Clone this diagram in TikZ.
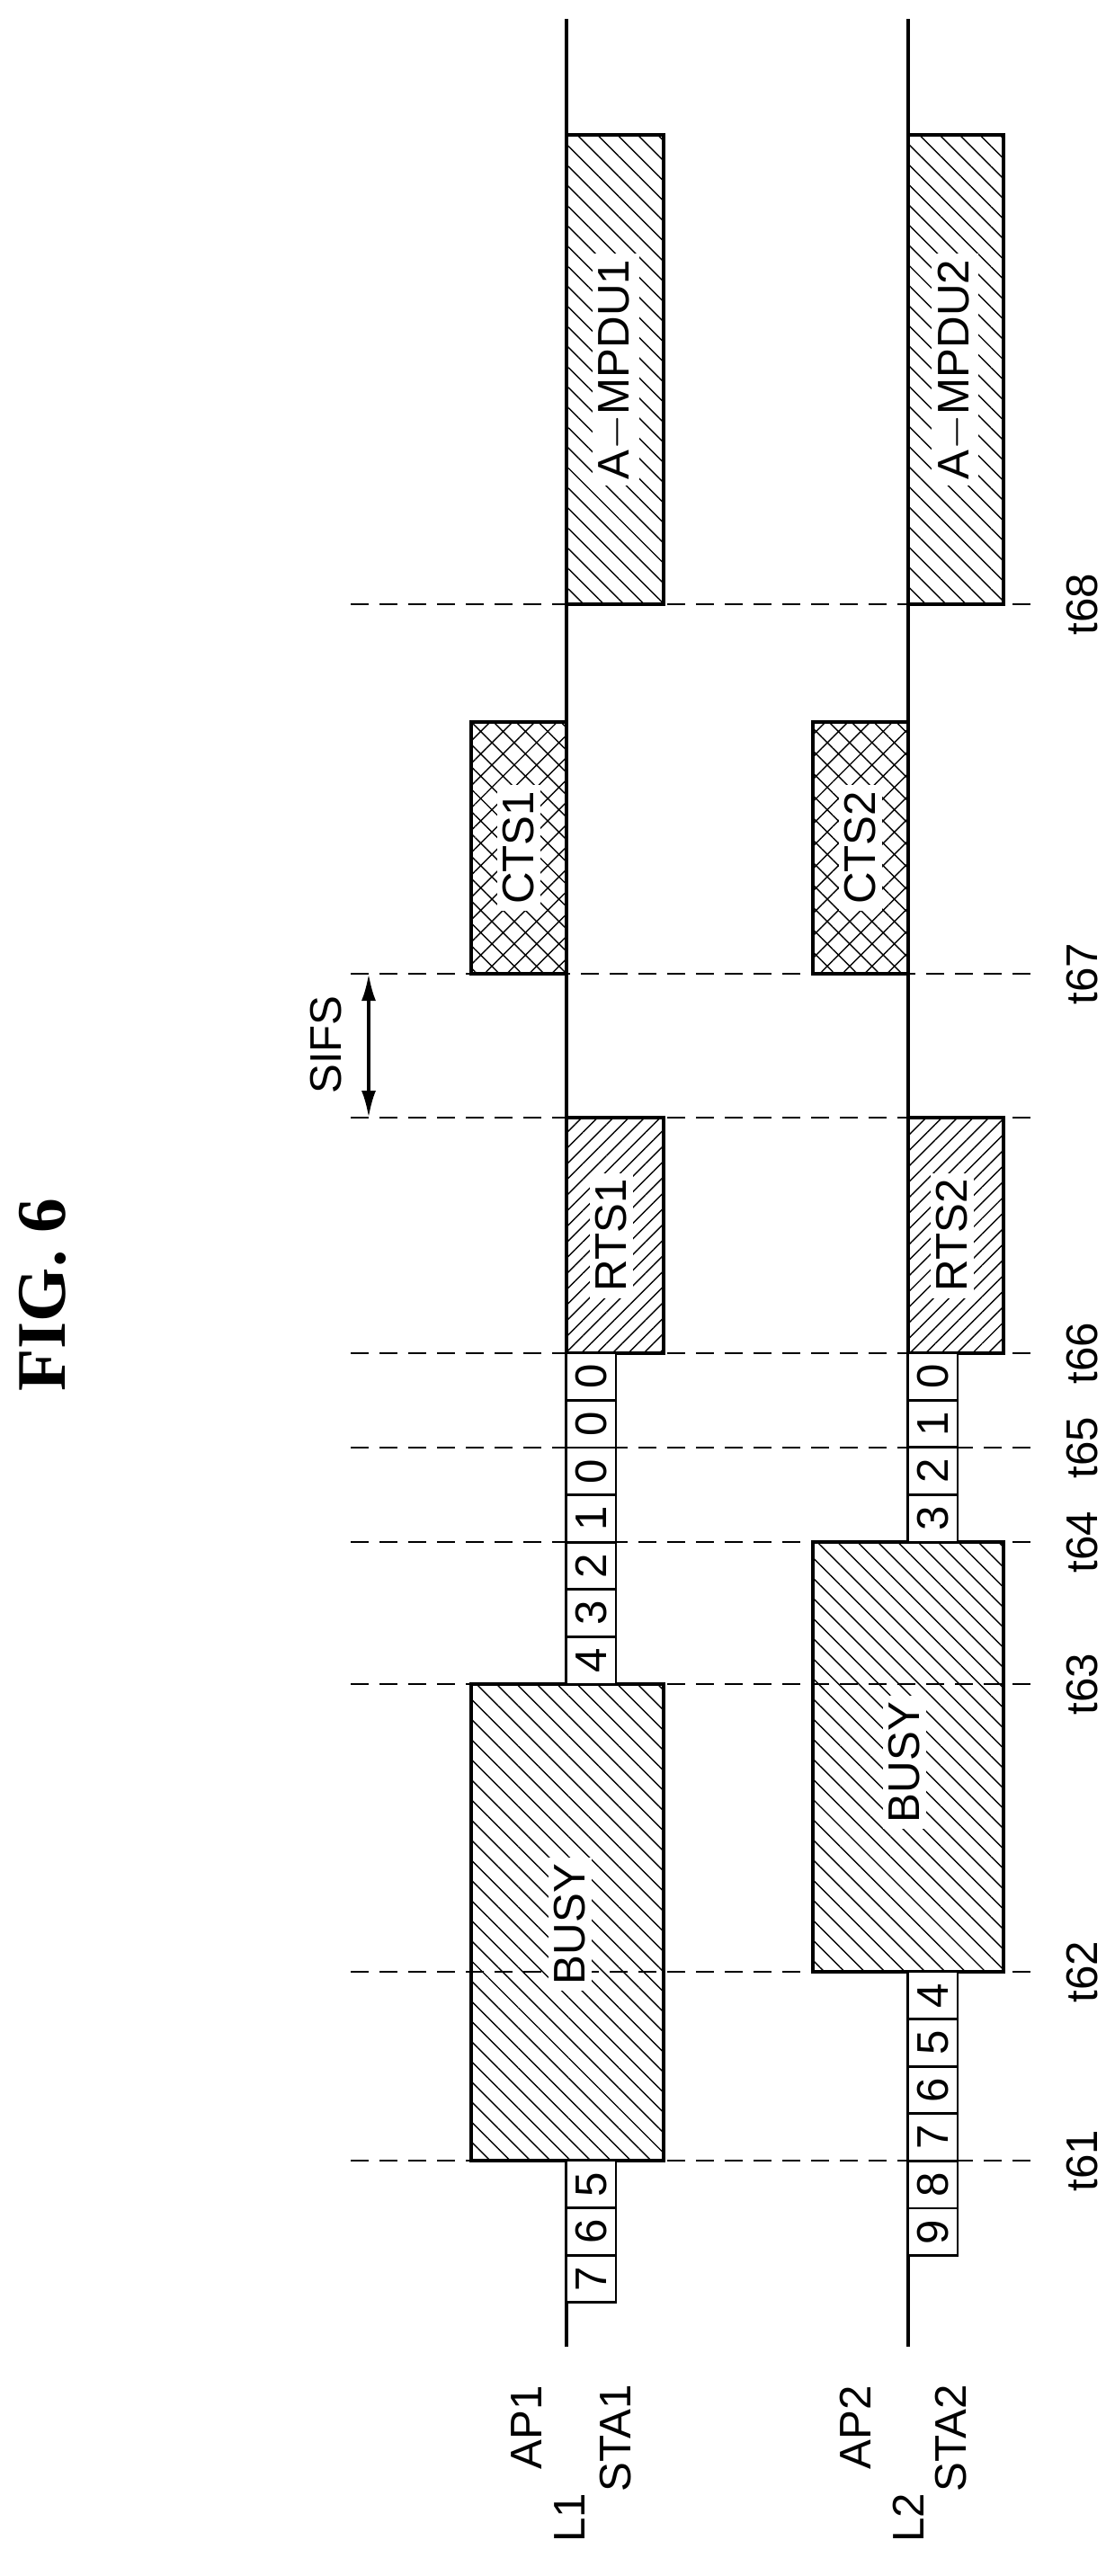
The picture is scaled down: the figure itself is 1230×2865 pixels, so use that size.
\documentclass[tikz,border=0pt]{standalone}
\usepackage{fontspec}
\setmainfont{Liberation Sans}
\newfontfamily\figfont{Liberation Serif}
\usetikzlibrary{patterns.meta,arrows.meta}
\tikzset{
  tl/.style={line width=1pt},
  tdash/.style={line width=0.6pt, dash pattern=on 0.2cm off 0.12cm},
  frame/.style={line width=1pt, preaction={fill=white}},
  hatchA/.style={frame, pattern={Lines[angle=-45,distance=4.5pt,line width=0.4pt]}},
  hatchB/.style={frame, pattern={Lines[angle=45,distance=3.5pt,line width=0.4pt]}},
  hatchC/.style={frame, pattern={Hatch[angle=45,distance=5pt,line width=0.4pt]}},
  lbl/.style={rotate=90, font=\fontsize{14}{16}\selectfont, inner sep=0pt},
  blbl/.style={lbl, fill=white, inner sep=2pt},
  cnt/.style={draw, line width=0.8pt, fill=white, rotate=90, minimum width=0.526cm, minimum height=0.55cm,
    inner sep=0pt, font=\fontsize{14}{16}\selectfont},
}
\begin{document}
\begin{tikzpicture}[x=0.01cm, y=-0.01cm]
            \useasboundingbox (0,0) rectangle (1230,2865);
            % Title
            \node[rotate=90, font=\figfont\bfseries\fontsize{22}{24}\selectfont] (fig) at (47,1440) {FIG. 6};

            % Time lines
            \coordinate (L1top) at (630,21);  \coordinate (L1bot) at (630,2610);
            \coordinate (L2top) at (1010,21); \coordinate (L2bot) at (1010,2610);
            \draw[tl] (L1top) -- (L1bot);
            \draw[tl] (L2top) -- (L2bot);

            % Link 1
            \draw[hatchA] (524,1873) rectangle (738,2403);
            \draw[hatchB] (630,1243) rectangle (738,1505);
            \draw[hatchC] (524,803) rectangle (630,1083);
            \draw[hatchA] (630,150) rectangle (738,672);
            \foreach \n [count=\i] in {5,6,7}
                \node[cnt] (c1a\i) at (657.5,2403+\i*52.6-26.3) {\n};
            \foreach \n [count=\i] in {4,3,2,1,0,0,0}
                \node[cnt] (c1b\i) at (657.5,1873-\i*52.6+26.3) {\n};

            % Link 2
            \draw[hatchA] (904,1715) rectangle (1116,2193);
            \draw[hatchB] (1010,1243) rectangle (1116,1505);
            \draw[hatchC] (904,803) rectangle (1010,1083);
            \draw[hatchA] (1010,150) rectangle (1116,672);
            \foreach \n [count=\i] in {4,5,6,7,8,9}
                \node[cnt] (c2a\i) at (1037.5,2193+\i*52.6-26.3) {\n};
            \foreach \n [count=\i] in {3,2,1,0}
                \node[cnt] (c2b\i) at (1037.5,1715-\i*52.6+26.3) {\n};

            % Time marks
            \foreach \t/\y in {61/2403, 62/2193, 63/1873, 64/1715, 65/1610, 66/1505, 67/1083, 68/672} {
                \coordinate (a\t) at (390,\y);
                \coordinate (b\t) at (1153,\y);
                \draw[tdash] (a\t) -- (b\t);
                \node[lbl] (t\t) at (1204,\y) {t\t};
            }
            \coordinate (aS) at (390,1243); \coordinate (bS) at (1153,1243);
            \draw[tdash] (aS) -- (bS);

            % SIFS
            \coordinate (s1) at (410,1083); \coordinate (s2) at (410,1243);
            \draw[line width=1pt, {Latex[length=0.3cm,width=0.16cm]}-{Latex[length=0.3cm,width=0.16cm]}] (s1) -- (s2);
            \node[lbl] (sifs) at (363,1162) {SIFS};

            % Frame labels
            \node[blbl] (busy1) at (634,2140) {BUSY};
            \node[blbl] (rts1) at (680,1374) {RTS1};
            \node[blbl] (cts1) at (577,943) {CTS1};
            \node[blbl] (mpdu1) at (685,411) {A$-$MPDU1};
            \node[blbl] (busy2) at (1006,1960) {BUSY};
            \node[blbl] (rts2) at (1059,1374) {RTS2};
            \node[blbl] (cts2) at (957,943) {CTS2};
            \node[blbl] (mpdu2) at (1062,411) {A$-$MPDU2};

            % Labels
            \node[lbl] (ap1) at (586,2700) {AP1};
            \node[lbl] (sta1) at (685,2712) {STA1};
            \node[lbl] (l1) at (634,2800) {L1};
            \node[lbl] (ap2) at (951,2700) {AP2};
            \node[lbl] (sta2) at (1058,2712) {STA2};
            \node[lbl] (l2) at (1010,2800) {L2};
\end{tikzpicture}
\end{document}
